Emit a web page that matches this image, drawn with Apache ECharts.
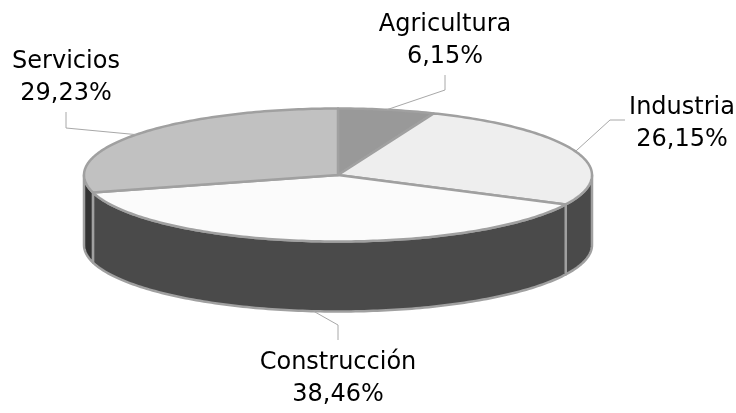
<!DOCTYPE html>
<html>
<head>
<meta charset="utf-8">
<style>
  html, body { margin: 0; padding: 0; background: #fff; }
  #chart { width: 736px; height: 413px; }
</style>
<script src="https://cdn.jsdelivr.net/npm/echarts@6/dist/echarts.min.js"></script>
</head>
<body>
<div id="chart"></div>
<script>
  // datos
  const categories = ['Agricultura', 'Industria', 'Construcción', 'Servicios'];
  const shares = [6.15, 26.15, 38.46, 29.23];
  const shareLabels = ['6,15%', '26,15%', '38,46%', '29,23%'];

  const topColors = ['#999999', '#eeeeee', '#fbfbfb', '#c1c1c1'];
  const sideColors = ['#4a4a4a', '#4a4a4a', '#4a4a4a', '#333333'];

  // geometria del disco
  const cx = 338, cy = 175, rx = 254, ry = 66.5, depth = 70;
  const edge = '#a0a0a0';
  const total = shares.reduce((a, b) => a + b, 0);

  // recuadro de etiquetas: [centro x, centro y, codo x, codo y, fin x, fin y]
  const labelBoxes = [
    [445, 41, 445, 90, 445, 75],
    [682, 124, 610, 120, 625, 120],
    [338, 379, 338, 325, 338, 340],
    [66, 78, 66, 128, 66, 112]
  ];

  function ellipsePt(deg, dy) {
    const a = deg * Math.PI / 180;
    return [cx + rx * Math.sin(a), cy - ry * Math.cos(a) + (dy || 0)];
  }
  function arc(from, to, dy) {
    const pts = [];
    const n = Math.max(2, Math.ceil(Math.abs(to - from)));
    for (let i = 0; i <= n; i++) pts.push(ellipsePt(from + (to - from) * i / n, dy));
    return pts;
  }
  function sliceRange(idx) {
    let start = 0;
    for (let i = 0; i < idx; i++) start += shares[i];
    return [start / total * 360, (start + shares[idx]) / total * 360];
  }

  function renderSide(params, api) {
    const r = sliceRange(params.dataIndex);
    const from = Math.max(r[0], 90), to = Math.min(r[1], 270);
    if (from >= to) return { type: 'group', children: [] };
    const pts = arc(from, to, 0).concat(arc(to, from, depth));
    return {
      type: 'polygon',
      shape: { points: pts },
      style: { fill: sideColors[params.dataIndex], stroke: edge, lineWidth: 2.5, lineJoin: 'round' }
    };
  }

  function renderTop(params, api) {
    const r = sliceRange(params.dataIndex);
    const pts = [[cx, cy]].concat(arc(r[0], r[1], 0));
    return {
      type: 'polygon',
      shape: { points: pts },
      style: { fill: topColors[params.dataIndex], stroke: edge, lineWidth: 2.5, lineJoin: 'round' }
    };
  }

  function renderLabel(params, api) {
    const i = params.dataIndex;
    const r = sliceRange(i);
    const mid = (r[0] + r[1]) / 2;
    const b = labelBoxes[i];
    const start = ellipsePt(mid, Math.cos(mid * Math.PI / 180) < 0 ? depth : 0);
    return {
      type: 'group',
      children: [
        {
          type: 'polyline',
          shape: { points: [start, [b[2], b[3]], [b[4], b[5]]] },
          style: { fill: null, stroke: '#a8a8a8', lineWidth: 1 }
        },
        {
          type: 'text',
          style: {
            x: b[0], y: b[1], text: categories[i] + '\n' + shareLabels[i],
            textAlign: 'center', textVerticalAlign: 'middle',
            font: '24px "DejaVu Sans"', lineHeight: 32, fill: '#000000'
          }
        }
      ]
    };
  }

  const chart = echarts.init(document.getElementById('chart'));
  chart.setOption({
    animation: false,
    backgroundColor: '#ffffff',
    series: [
      { type: 'custom', coordinateSystem: 'none', renderItem: renderSide, data: shares, z: 1, silent: true },
      { type: 'custom', coordinateSystem: 'none', renderItem: renderTop, data: shares, z: 2, silent: true },
      { type: 'custom', coordinateSystem: 'none', renderItem: renderLabel, data: shares, z: 3, silent: true }
    ]
  });
</script>
</body>
</html>
